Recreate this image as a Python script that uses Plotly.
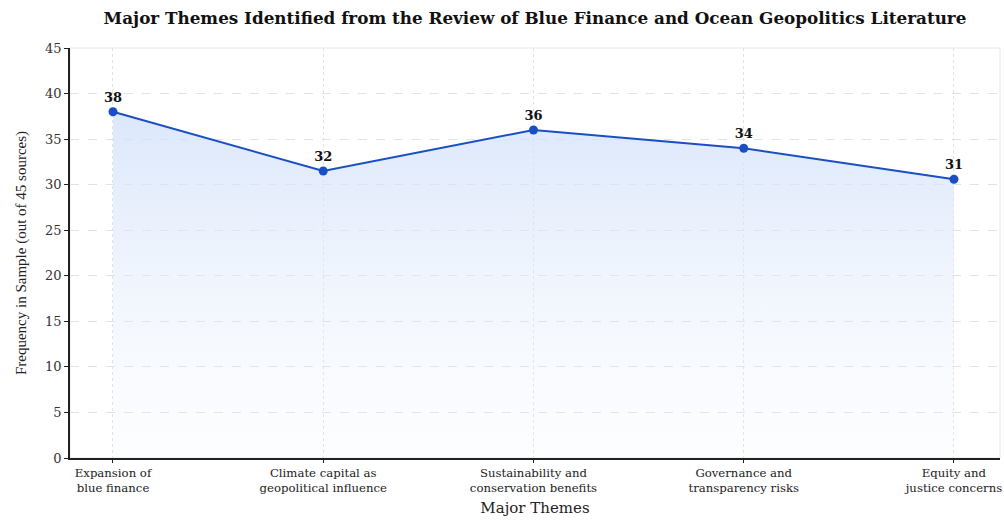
import plotly.graph_objects as go

themes = ["Expansion of<br>blue finance", "Climate capital as<br>geopolitical influence",
          "Sustainability and<br>conservation benefits", "Governance and<br>transparency risks",
          "Equity and<br>justice concerns"]
frequency = [38, 31.5, 36, 34, 30.6]
labels = ["38", "32", "36", "34", "31"]
y_ticks = [0, 5, 10, 15, 20, 25, 30, 35, 40, 45]

SERIF = "Liberation Serif"
WIDE = "DejaVu Serif"
BLUE = "#1a4fc4"

fig = go.Figure()
fig.add_trace(go.Scatter(
    x=themes, y=frequency, mode="lines", fill="tozeroy",
    line=dict(width=0),
    fillgradient=dict(type="vertical", start=0, stop=38,
                      colorscale=[[0, "rgba(235,242,253,0.1)"], [1, "rgba(210,225,250,0.8)"]]),
    hoverinfo="skip", showlegend=False))
fig.add_trace(go.Scatter(
    x=themes, y=frequency, mode="lines+markers+text",
    line=dict(color=BLUE, width=2),
    marker=dict(color=BLUE, size=9),
    text=labels, textposition="top center",
    textfont=dict(family=WIDE, size=13, color="#111111", weight="bold"),
    showlegend=False))

fig.update_layout(
    width=1004, height=523,
    margin=dict(l=70, r=4, t=48, b=65),
    paper_bgcolor="white", plot_bgcolor="white",
    font=dict(family=SERIF, color="#222222"),
    title=dict(text="<b>Major Themes Identified from the Review of Blue Finance and Ocean Geopolitics Literature</b>",
               x=0.5, xref="paper", xanchor="center", y=0.965, yanchor="middle",
               font=dict(family=WIDE, size=16.8, color="#111111")),
    xaxis=dict(type="category", range=[-0.2045, 4.219], automargin=False,
               title=dict(text="Major Themes", font=dict(family=WIDE, size=15, color="#222222"), standoff=8),
               tickfont=dict(family=WIDE, size=11.7, color="#222222"),
               showline=True, linecolor="#222222", linewidth=1.5, mirror=False,
               ticks="outside", ticklen=3, tickcolor="#222222",
               showgrid=True, gridcolor="#e2e2e2", griddash="dot", gridwidth=1,
               zeroline=False),
    yaxis=dict(range=[0, 45], tickvals=y_ticks, automargin=False,
               title=dict(text="Frequency in Sample (out of 45 sources)", font=dict(family=SERIF, size=15, color="#222222"), standoff=15),
               tickfont=dict(family=WIDE, size=13, color="#333333"),
               showline=True, linecolor="#222222", linewidth=1.5,
               ticks="outside", ticklen=4, tickcolor="#222222",
               showgrid=True, gridcolor="#e2e2e2", griddash="dash", gridwidth=1,
               zeroline=False),
)
fig.add_shape(type="rect", xref="paper", yref="paper", x0=0, y0=0, x1=1, y1=1,
              line=dict(color="#e6e6e6", width=1), layer="below")
fig.write_html("out.html")
